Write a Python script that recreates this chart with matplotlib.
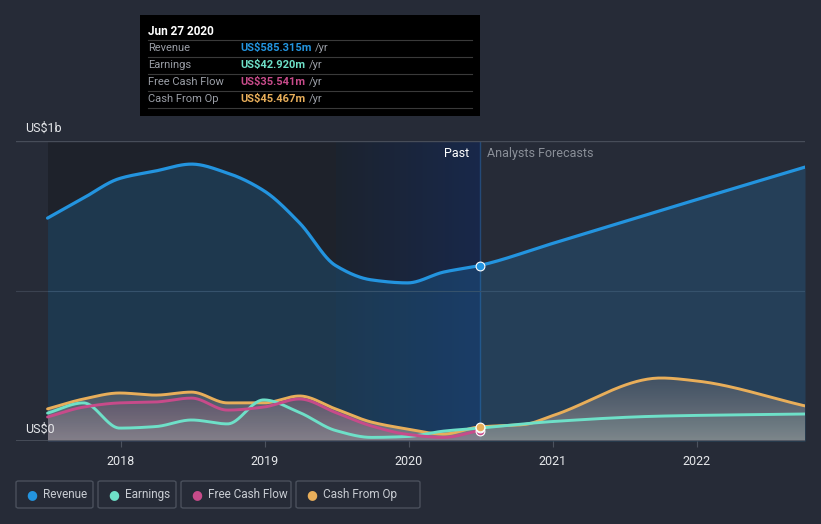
import numpy as np
import matplotlib.pyplot as plt
from matplotlib.patches import FancyBboxPatch
from matplotlib.colors import LinearSegmentedColormap
from matplotlib.transforms import offset_copy

plt.rcParams['font.family'] = ['Roboto', 'DejaVu Sans']

# quarterly history (year fraction) and forecasts, values in US$ billions
past_x = [2017.49, 2017.74, 2017.99, 2018.24, 2018.49, 2018.74, 2018.99,
          2019.24, 2019.49, 2019.74, 2019.99, 2020.24, 2020.49]
revenue = [0.743, 0.81, 0.875, 0.90, 0.923, 0.893, 0.835,
           0.727, 0.585, 0.537, 0.527, 0.563, 0.585]
earnings = [0.093, 0.127, 0.043, 0.048, 0.07, 0.057, 0.137,
            0.095, 0.035, 0.012, 0.015, 0.033, 0.043]
fcf = [0.08, 0.113, 0.127, 0.13, 0.143, 0.103, 0.113,
       0.14, 0.095, 0.05, 0.022, 0.012, 0.035]
cfo = [0.107, 0.14, 0.16, 0.153, 0.163, 0.127, 0.127,
       0.15, 0.107, 0.063, 0.04, 0.023, 0.047]

rev_fc_x = [2020.49, 2021.0, 2022.0, 2022.75]
rev_fc = [0.585, 0.659, 0.805, 0.913]
earn_fc_x = [2020.49, 2021.0, 2021.75, 2022.75]
earn_fc = [0.043, 0.065, 0.083, 0.09]
cfo_fc_x = [2020.49, 2020.8, 2021.0, 2021.75, 2022.0, 2022.75]
cfo_fc = [0.047, 0.055, 0.085, 0.21, 0.2, 0.117]

years = [2018, 2019, 2020, 2021, 2022]

BG = '#262b37'
C_REV = '#2394df'
C_EARN = '#6ee0c8'
C_FCF = '#c74b8a'
C_CFO = '#e8ae5a'


def smooth(xs, ys, n=40):
    # monotone cubic (Fritsch-Carlson), just for drawing the curve
    x = np.asarray(xs, float)
    y = np.asarray(ys, float)
    h = np.diff(x)
    d = np.diff(y) / h
    m = np.zeros_like(y)
    m[0], m[-1] = d[0], d[-1]
    for i in range(1, len(y) - 1):
        if d[i - 1] * d[i] > 0:
            w1 = 2 * h[i] + h[i - 1]
            w2 = h[i] + 2 * h[i - 1]
            m[i] = (w1 + w2) / (w1 / d[i - 1] + w2 / d[i])
    xo, yo = [], []
    for i in range(len(x) - 1):
        t = np.linspace(0, 1, n, endpoint=(i == len(x) - 2))
        h00 = 2 * t**3 - 3 * t**2 + 1
        h10 = t**3 - 2 * t**2 + t
        h01 = -2 * t**3 + 3 * t**2
        h11 = t**3 - t**2
        xo.append(x[i] + t * h[i])
        yo.append(h00 * y[i] + h10 * h[i] * m[i] + h01 * y[i + 1] + h11 * h[i] * m[i + 1])
    return np.concatenate(xo), np.concatenate(yo)


fig = plt.figure(figsize=(8.21, 5.24), dpi=100, facecolor=BG)
ax = fig.add_axes([16 / 821, 83 / 524, 789 / 821, 300 / 524])
ax.set_facecolor(BG)
ax.set_xlim(2017.271, 2022.75)
ax.set_ylim(0, 1)

# background zones: darker past, blue gradient over the last year
ax.axvspan(2017.49, 2019.49, color='#1e222b', zorder=0, lw=0)
grad = np.linspace(0, 1, 256).reshape(1, -1)
cm = LinearSegmentedColormap.from_list('g', ['#1c232f', '#18284a'])
ax.imshow(grad, extent=[2019.49, 2020.49, 0, 1], aspect='auto', cmap=cm, zorder=0.5,
          interpolation='bilinear')
ax.axvline(2020.49, color='#244a78', lw=1, zorder=1)

ax.axhline(0.5, color='#3b4250', lw=0.8, zorder=1)
ax.axhline(1, color='#474d59', lw=1, zorder=1)
ax.axhline(0, color='#4c525e', lw=1.2, zorder=6)

# series curves
rx, ry = smooth(past_x + rev_fc_x[1:], revenue + rev_fc[1:])
ex, ey = smooth(past_x + earn_fc_x[1:], earnings + earn_fc[1:])
fx, fy = smooth(past_x, fcf)
cx, cy = smooth(past_x + cfo_fc_x[1:], cfo + cfo_fc[1:])

ax.fill_between(rx, 0, ry, color=C_REV, alpha=0.2, lw=0, zorder=2)

# grey gradient under the small series
env_y = np.maximum(cy, np.interp(cx, ex, ey))
env_y = np.maximum(env_y, np.interp(cx, fx, fy, right=0))
poly = ax.fill_between(cx, 0, env_y, color='none', lw=0, zorder=3)
gcm = LinearSegmentedColormap.from_list('gg', [(0.62, 0.6, 0.6, 0.75), (0.45, 0.45, 0.47, 0.35)])
gim = ax.imshow(np.linspace(0, 1, 256).reshape(-1, 1), extent=[2017.49, 2022.75, 0, 0.22],
                origin='lower', aspect='auto', cmap=gcm, zorder=3)
gim.set_clip_path(poly.get_paths()[0], transform=ax.transData)
ax.fill_between(fx, 0, fy, color=C_FCF, alpha=0.12, lw=0, zorder=3)
ax.fill_between(ex, 0, ey, color=C_EARN, alpha=0.06, lw=0, zorder=3)

ax.plot(rx, ry, color=C_REV, lw=2.3, zorder=5, solid_capstyle='round')
ax.plot(cx, cy, color=C_CFO, lw=2.1, zorder=5, solid_capstyle='round')
ax.plot(ex, ey, color=C_EARN, lw=2.1, zorder=5, solid_capstyle='round')
ax.plot(fx, fy, color=C_FCF, lw=2.1, zorder=5, solid_capstyle='round')

# markers at the last reported point
ax.scatter([2020.49], [fcf[-1]], s=40, color=C_FCF, edgecolor='white', lw=0.8, zorder=7)
ax.scatter([2020.49], [earnings[-1]], s=40, color=C_EARN, edgecolor='white', lw=0.8, zorder=7)
ax.scatter([2020.49], [cfo[-1]], s=40, color=C_CFO, edgecolor='white', lw=0.8, zorder=7)
ax.scatter([2020.49], [revenue[-1]], s=40, color=C_REV, edgecolor='white', lw=0.8, zorder=7)

for s in ax.spines.values():
    s.set_visible(False)
ax.set_yticks([])
ax.set_xticks(years)
ax.set_xticklabels([str(y) for y in years], color='#e6e8eb', fontsize=9)
ax.tick_params(axis='x', length=4, color='#4c525e', pad=6)

fig.text(25 / 821, (524 - 128) / 524, 'US$1b', color='#e6e8eb', fontsize=9,
         va='center', ha='left')
fig.text(25 / 821, (524 - 429) / 524, 'US$0', color='#e6e8eb', fontsize=9,
         va='center', ha='left', zorder=10)
ax.text(2020.42, 0.96, 'Past', color='white', fontsize=9, ha='right', va='center', zorder=8)
ax.text(2020.54, 0.96, 'Analysts Forecasts', color='#8a8f98', fontsize=9, ha='left',
        va='center', zorder=8)

# tooltip
tip = fig.add_axes([140 / 821, (524 - 116) / 524, 340 / 821, 101 / 524])
tip.set_xlim(140, 480)
tip.set_ylim(116, 15)
tip.set_facecolor('black')
tip.set_xticks([])
tip.set_yticks([])
for s in tip.spines.values():
    s.set_visible(False)
tip.text(148, 31, 'Jun 27 2020', color='white', fontsize=8.5, fontweight='bold', va='center')
rows = [('Revenue', 'US$585.315m', C_REV),
        ('Earnings', 'US$42.920m', C_EARN),
        ('Free Cash Flow', 'US$35.541m', C_FCF),
        ('Cash From Op', 'US$45.467m', C_CFO)]
renderer = fig.canvas.get_renderer()
for i, (lab, val, col) in enumerate(rows):
    y = 48 + 17 * i
    tip.plot([148, 472], [y - 8.5, y - 8.5], color='#3a3a3a', lw=0.8)
    tip.text(148, y, lab, color='#9a9ea6', fontsize=8, va='center')
    t = tip.text(240, y, val, color=col, fontsize=8, va='center', fontweight='bold')
    w = t.get_window_extent(renderer).width
    tip.text(240, y, '/yr', color='#9a9ea6', fontsize=8, va='center',
             transform=offset_copy(tip.transData, fig=fig, x=w + 4, units='dots'))
tip.plot([148, 472], [108, 108], color='#3a3a3a', lw=0.8)

# legend boxes
legend = [('Revenue', C_REV, 16, 93), ('Earnings', C_EARN, 98, 176),
          ('Free Cash Flow', C_FCF, 181, 291), ('Cash From Op', C_CFO, 296, 420)]
for lab, col, x0, x1 in legend:
    box = FancyBboxPatch((x0 / 821, (524 - 508) / 524), (x1 - x0) / 821, 27 / 524,
                         boxstyle='round,pad=0,rounding_size=0.003', transform=fig.transFigure,
                         facecolor='none', edgecolor='#4a505c', lw=1)
    fig.patches.append(box)
    fig.text((x0 + 16) / 821, (524 - 494.5) / 524, '\u25cf', color=col, fontsize=9,
             ha='center', va='center')
    fig.text((x0 + 27) / 821, (524 - 494.5) / 524, lab, color='#c8ccd2', fontsize=8.5,
             ha='left', va='center')

fig.savefig('out.png', dpi=100, facecolor=BG)
